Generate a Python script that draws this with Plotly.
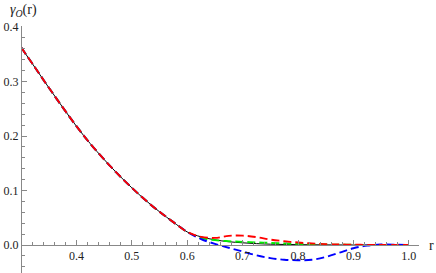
import plotly.graph_objects as go

# ---- data ----
r_main = [0.30, 0.325, 0.35, 0.375, 0.40, 0.425, 0.45, 0.475, 0.50, 0.525, 0.55, 0.575]
y_main = [0.363, 0.326, 0.289, 0.253, 0.218, 0.186, 0.157, 0.130, 0.105, 0.082, 0.061, 0.042]

r_tail = [0.60, 0.625, 0.65, 0.675, 0.70, 0.725, 0.75, 0.775, 0.80, 0.825, 0.85,
          0.875, 0.90, 0.925, 0.95, 0.975, 1.00]
y_black = [0.024, 0.015, 0.0095, 0.006, 0.004, 0.0025, 0.0015, 0.001, 0.0006, 0.0004,
           0.0002, 0.0001, 0.0, 0.0, 0.0, 0.0, 0.0]
y_green = [0.024, 0.013, 0.009, 0.007, 0.0058, 0.0048, 0.0038, 0.0028, 0.002, 0.0013,
           0.0008, 0.0005, 0.0003, 0.0001, 0.0, 0.0, 0.0]
y_blue = [0.024, 0.011, 0.002, -0.005, -0.012, -0.019, -0.024, -0.027, -0.028, -0.027,
          -0.022, -0.014, -0.006, -0.001, 0.0008, 0.0006, 0.0]
y_red = [0.024, 0.015, 0.013, 0.0168, 0.0172, 0.0145, 0.010, 0.007, 0.0045, 0.0028,
         0.0016, 0.001, 0.0005, 0.0002, 0.0001, 0.0, 0.0]

x_ticks = [0.4, 0.5, 0.6, 0.7, 0.8, 0.9, 1.0]
y_ticks = [0.0, 0.1, 0.2, 0.3, 0.4]
y_label = "<i>γ</i><sub><i>O</i></sub>(r)"
x_label = "r"

W, H = 436, 273
px_x0, px_x1 = 21, 419          # horizontal extent of the axes
px_y_top, px_y_zero = 26, 245   # pixel rows for top of axis and y = 0
x_per_px = 1 / 554
y_per_px = 1 / 545

x_range = [0.3, 0.3 + (px_x1 - px_x0) * x_per_px]
y_range = [-(H - px_y_zero) * y_per_px, (px_y_zero - px_y_top) * y_per_px]

fig = go.Figure()
line_w = 1.9
dash = "8px,4px"
fig.add_trace(go.Scatter(x=r_main + r_tail, y=y_main + y_black, mode="lines",
                         line=dict(color="black", width=1, shape="spline")))
fig.add_trace(go.Scatter(x=r_main + r_tail, y=y_main + y_green, mode="lines",
                         line=dict(color="#00ee00", width=line_w, dash=dash, shape="spline")))
fig.add_trace(go.Scatter(x=r_main + r_tail, y=y_main + y_blue, mode="lines",
                         line=dict(color="#0000ff", width=line_w, dash=dash, shape="spline")))
fig.add_trace(go.Scatter(x=r_main + r_tail, y=y_main + y_red, mode="lines",
                         line=dict(color="#ff0000", width=line_w, dash=dash, shape="spline")))

axis_col = "#888888"
serif = "Liberation Serif, DejaVu Serif, serif"
font = dict(family=serif, size=12, color="#222222")

fig.update_layout(
    width=W, height=H, margin=dict(l=0, r=0, t=0, b=0),
    paper_bgcolor="white", plot_bgcolor="white", showlegend=False,
    font=font,
    xaxis=dict(domain=[px_x0 / W, px_x1 / W], range=x_range, anchor="free",
               position=(H - px_y_zero) / H,
               showgrid=False, zeroline=False, showline=True, linecolor=axis_col,
               linewidth=1, ticks="inside", ticklen=5, tickcolor=axis_col,
               tickvals=x_ticks, ticktext=[f"{v:.1f}" for v in x_ticks],
               tickfont=font,
               minor=dict(dtick=0.02, tick0=0.3, ticklen=3, ticks="inside",
                          tickcolor=axis_col, showgrid=False),
               automargin=False, fixedrange=True),
    yaxis=dict(domain=[0, (H - px_y_top) / H], range=y_range, anchor="free",
               position=px_x0 / W,
               showgrid=False, zeroline=False, showline=True, linecolor=axis_col,
               linewidth=1, ticks="inside", ticklen=5, tickcolor=axis_col,
               tickvals=y_ticks, ticktext=[f"{v:.1f}" for v in y_ticks],
               tickfont=font,
               minor=dict(dtick=0.02, tick0=0.0, ticklen=3, ticks="inside",
                          tickcolor=axis_col, showgrid=False),
               automargin=False, fixedrange=True),
    annotations=[
        dict(text=y_label, xref="paper", yref="paper", x=8 / W, y=1 - 11 / H,
             xanchor="left", yanchor="middle", showarrow=False,
             font=dict(family=serif, size=14, color="#222222")),
        dict(text=x_label, xref="paper", yref="paper", x=431 / W, y=(H - px_y_zero) / H,
             xanchor="center", yanchor="middle", showarrow=False,
             font=dict(family=serif, size=14, color="#222222")),
    ],
)

fig.write_html(
    "out.html",
    config={"displayModeBar": False},
    post_script="document.body.style.margin='0';document.body.style.overflow='hidden';",
)
